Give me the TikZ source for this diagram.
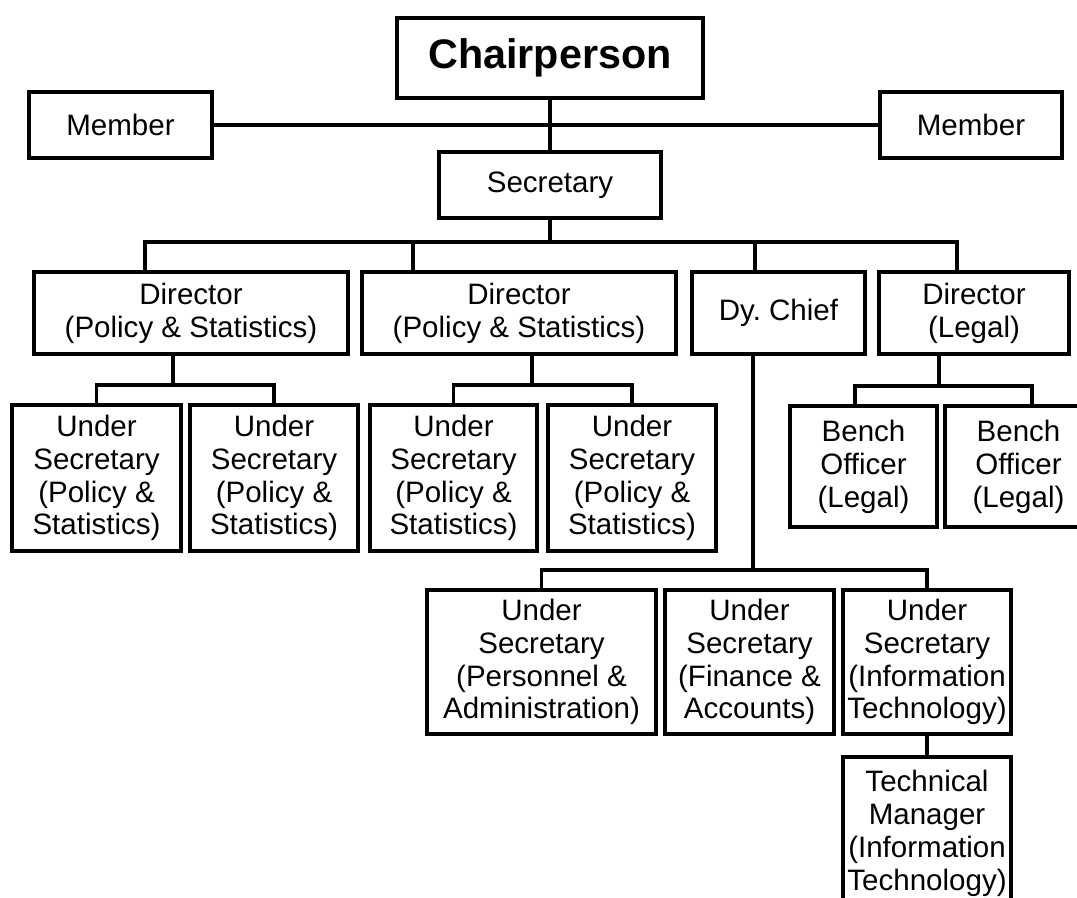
\documentclass[tikz,border=0pt]{standalone}
\usepackage{fontspec}
\setmainfont{Liberation Sans}
\usetikzlibrary{positioning}
\tikzset{
chart/.style={x=0.02cm,y=-0.02cm,line width=1.8pt},
post/.style={rectangle,draw,line width=1.9pt,align=center,inner sep=0pt,
font=\fontsize{16.8}{18.7}\selectfont},
head/.style={post,font=\fontsize{23.5}{28}\selectfont\bfseries},
bench link/.style={line width=2.4pt},
}
\begin{document}
\begin{tikzpicture}[chart]
                \useasboundingbox (0,0) rectangle (1077,897);
                \node[head] (chair) [minimum width=6.12cm, minimum height=1.6cm] at (550,58) {Chairperson};
                \node[post] (meml) [minimum width=3.66cm, minimum height=1.32cm] at (120.5,125) {Member};
                \node[post] (memr) [minimum width=3.64cm, minimum height=1.32cm] at (971,125) {Member};
                \node[post] (sec) [minimum width=4.44cm, minimum height=1.32cm] at (550,185) {Secretary};
                
                \node[post] (dir1) [minimum width=6.28cm, minimum height=1.64cm] at (191,313) {Director\\(Policy \& Statistics)};
                \node[post] (dir2) [minimum width=6.28cm, minimum height=1.64cm] at (519,313) {Director\\(Policy \& Statistics)};
                \node[post] (dychief) [minimum width=3.46cm, minimum height=1.64cm] at (778.5,313) {Dy.\ Chief};
                \node[post] (dirlegal) [minimum width=3.8cm, minimum height=1.64cm] at (974,313) {Director\\(Legal)};
                
                \node[post] (us1) [minimum width=3.38cm, minimum height=2.92cm] at (96.5,478) {Under\\Secretary\\(Policy \&\\Statistics)};
                \node[post] (us2) [minimum width=3.36cm, minimum height=2.92cm] at (274,478) {Under\\Secretary\\(Policy \&\\Statistics)};
                \node[post] (us3) [minimum width=3.34cm, minimum height=2.92cm] at (453.5,478) {Under\\Secretary\\(Policy \&\\Statistics)};
                \node[post] (us4) [minimum width=3.36cm, minimum height=2.92cm] at (632,478) {Under\\Secretary\\(Policy \&\\Statistics)};
                \node[post] (bench1) [minimum width=2.94cm, minimum height=2.42cm] at (863.5,466.5) {Bench\\Officer\\(Legal)};
                \node[post] (bench2) [minimum width=2.94cm, minimum height=2.42cm] at (1018.5,466.5) {Bench\\Officer\\(Legal)};
                
                \node[post] (uspa) [minimum width=4.58cm, minimum height=2.88cm] at (541.5,662) {Under\\Secretary\\(Personnel \&\\Administration)};
                \node[post] (usfa) [minimum width=3.38cm, minimum height=2.88cm] at (749.5,662) {Under\\Secretary\\(Finance \&\\Accounts)};
                \node[post] (usit) [minimum width=3.36cm, minimum height=2.88cm] at (927,662) {Under\\Secretary\\(Information\\Technology)};
                \node[post] (techman) [minimum width=3.36cm, minimum height=3.06cm] at (927,833.5) {Technical\\Manager\\(Information\\Technology)};
                
                % top of the chart
                \path (chair) edge (sec);
                \draw (meml) -- (memr);
                
                \coordinate (busl) at (145,242);
                \coordinate (bus2) at (413,242);
                \coordinate (bus3) at (755,242);
                \coordinate (busr) at (957,242);
                \draw (sec.south) -- (sec.south|-busl);
                \draw (busl|-dir1.north) -- (busl) -- (busr) -- (busr|-dirlegal.north);
                \draw (bus2) -- (bus2|-dir2.north);
                \draw (bus3) -- (bus3|-dychief.north);
                
                \coordinate (sub1) at (173,385);
                \coordinate (sub2) at (532,385);
                \draw (dir1.south-|sub1) -- (sub1);
                \draw (us1.north) |- (sub1) -| (us2.north);
                \draw (dir2.south-|sub2) -- (sub2);
                \draw (us3.north) |- (sub2) -| (us4.north);
                
                \coordinate (sub3) at (939,386);
                \coordinate (benchl) at (855,386);
                \coordinate (benchr) at (1032,386);
                \draw[bench link] (dirlegal.south-|sub3) -- (sub3);
                \draw[bench link] (benchl|-bench1.north) -- (benchl) -- (benchr) -- (benchr|-bench2.north);
                
                \coordinate (sub4) at (753,570);
                \draw (dychief.south-|sub4) -- (sub4);
                \draw (uspa.north) |- (sub4) -| (usit.north);
                \path (usit) edge (techman);
                %\draw (sub4) -- (usfa.north);
            \end{tikzpicture}
\end{document}
